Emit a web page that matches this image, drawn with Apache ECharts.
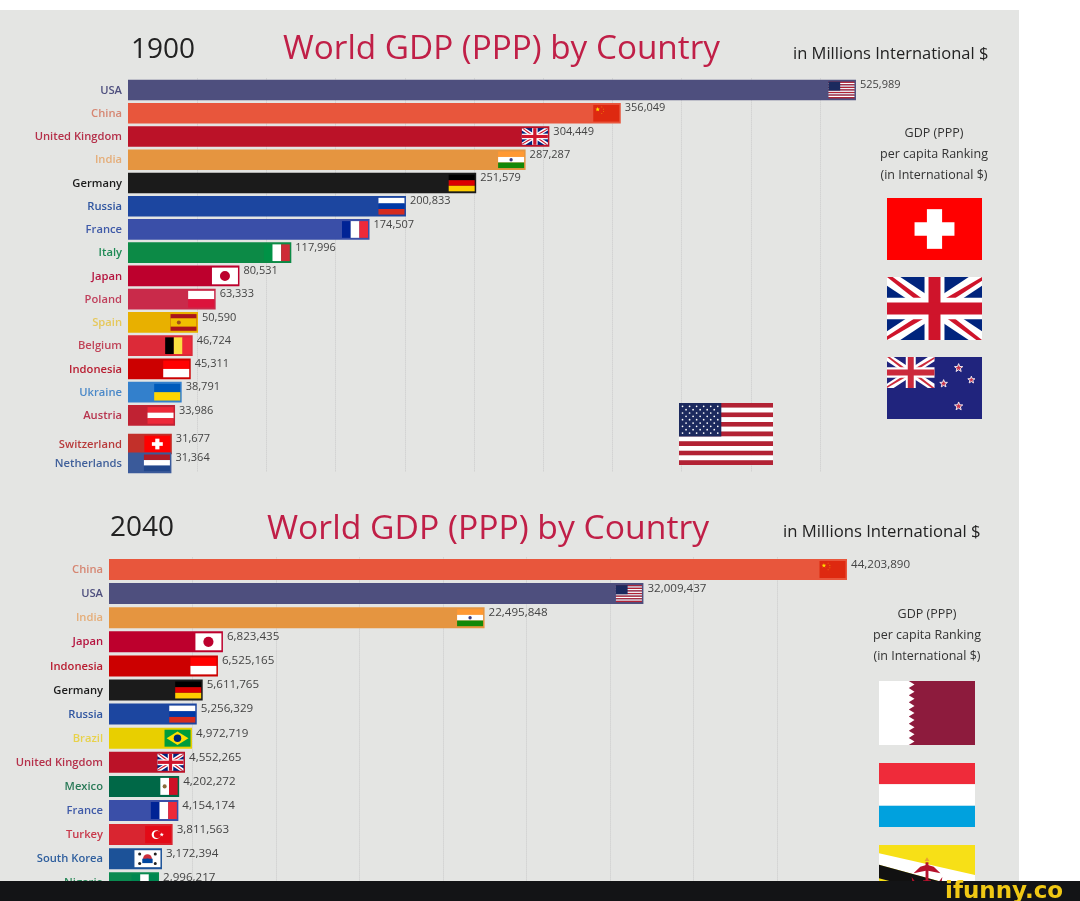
<!DOCTYPE html>
<html><head><meta charset="utf-8">
<style>html,body{margin:0;padding:0;background:#fff}#c{width:1080px;height:901px}</style>
<script src="https://cdn.jsdelivr.net/npm/echarts@6/dist/echarts.min.js"></script>
</head><body><div id="c"></div>
<script>
// ---------- data ----------
const names1900 = ['USA','China','United Kingdom','India','Germany','Russia','France','Italy','Japan','Poland','Spain','Belgium','Indonesia','Ukraine','Austria','Switzerland','Netherlands'];
const values1900 = [525989,356049,304449,287287,251579,200833,174507,117996,80531,63333,50590,46724,45311,38791,33986,31677,31364];
// the frame is caught mid-animation, the last two countries are between ranks
const ranks1900 = [1,2,3,4,5,6,7,8,9,10,11,12,13,14,15,16.23,17.04];
const names2040 = ['China','USA','India','Japan','Indonesia','Germany','Russia','Brazil','United Kingdom','Mexico','France','Turkey','South Korea','Nigeria'];
const values2040 = [44203890,32009437,22495848,6823435,6525165,5611765,5256329,4972719,4552265,4202272,4154174,3811563,3172394,2996217];
const ranks2040 = [1,2,3,4,5,6,7,8,9,10,11,12,13,14];
const barColors = {USA:'#4e4f7e',China:'#e8563c','United Kingdom':'#bb1228',India:'#e59540',Germany:'#1b1b1b',Russia:'#1c46a0',France:'#3a4fa8',Italy:'#0c8a46',Japan:'#bd002d',Poland:'#c92a4a',Spain:'#e8b000',Belgium:'#dc2a38',Indonesia:'#cc0000',Ukraine:'#3380cc',Austria:'#c02233',Switzerland:'#c2302a',Netherlands:'#3a5a9a',Brazil:'#e8cf00',Mexico:'#006847',Turkey:'#d92530','South Korea':'#1c5298',Nigeria:'#0a8a50'};
const labelColors = {USA:'#4e4f7e',China:'#d68672','United Kingdom':'#b5304a',India:'#e5ad78',Germany:'#1b1b1b',Russia:'#2f55a0',France:'#3f5aa8',Italy:'#1e8a55',Japan:'#b5143f',Poland:'#c0405c',Spain:'#e6c85a',Belgium:'#c04458',Indonesia:'#b81c30',Ukraine:'#4a88c8',Austria:'#b8344e',Switzerland:'#b83a3a',Netherlands:'#3f5f9a',Brazil:'#e8d24a',Mexico:'#2a7a58',Turkey:'#c8384a','South Korea':'#2f5f9e',Nigeria:'#2a8a5a'};
const FONT = '"Open Sans", sans-serif';

// ---------- flags ----------
function pen(x,y,w,h,out){
  return {
    r(nx,ny,nw,nh,c){out.push({type:'rect',shape:{x:x+nx*w,y:y+ny*h,width:nw*w,height:nh*h},style:{fill:c}});},
    p(pts,c){out.push({type:'polygon',shape:{points:pts.map(q=>[x+q[0]*w,y+q[1]*h])},style:{fill:c}});},
    c(nx,ny,nr,c){out.push({type:'circle',shape:{cx:x+nx*w,cy:y+ny*h,r:nr*h},style:{fill:c}});},
    s(nx,ny,nr,c,st){const pts=[];for(let i=0;i<10;i++){const a=-Math.PI/2+i*Math.PI/5,rr=(i%2?0.42:1)*nr*h;pts.push([x+nx*w+rr*Math.cos(a),y+ny*h+rr*Math.sin(a)]);}
      out.push({type:'polygon',shape:{points:pts},style:st?{fill:c,stroke:st,lineWidth:1}:{fill:c}});}
  };
}
function union(P,navy,red){
  P.r(0,0,1,1,navy);
  const t=.14,u=.06;
  P.p([[0,0],[t,0],[1,1-t],[1,1],[1-t,1],[0,t]],'#fff');
  P.p([[1,0],[1,t],[t,1],[0,1],[0,1-t],[1-t,0]],'#fff');
  P.p([[0,0],[u,0],[.5,.5-u*.2],[.5,.5],[.42,.5]],red);
  P.p([[1,1],[1-u,1],[.5,.5+u*.2],[.5,.5],[.58,.5]],red);
  P.p([[1,0],[1,u],[.55,.5],[.5,.5],[.5,.44]],red);
  P.p([[0,1],[0,1-u],[.45,.5],[.5,.5],[.5,.56]],red);
  P.r(.395,0,.21,1,'#fff');P.r(0,.33,1,.34,'#fff');
  P.r(.437,0,.126,1,red);P.r(0,.405,1,.19,red);
}
const flagFns = {
  USA(P,big){for(let i=0;i<13;i++)P.r(0,i/13,1,1/13,i%2?'#fff':'#b22234');P.r(0,0,.45,7/13,'#1c2a5e');
    if(big){for(let row=0;row<9;row++){const n=row%2?5:6;for(let k=0;k<n;k++)P.c((row%2?.075:.0375)+k*.075,(row+1)*.0538,.014,'#fff');}}},
  China(P){P.r(0,0,1,1,'#de2910');P.s(.17,.27,.14,'#ffde00');P.c(.33,.12,.025,'#ffde00');P.c(.4,.25,.025,'#ffde00');P.c(.4,.4,.025,'#ffde00');P.c(.33,.52,.025,'#ffde00');},
  'United Kingdom'(P){union(P,'#00247d','#cf142b');},
  India(P){P.r(0,0,1,1/3,'#ff9933');P.r(0,1/3,1,1/3,'#fff');P.r(0,2/3,1,1/3,'#138808');P.c(.5,.5,.1,'#3a3a80');},
  Germany(P){P.r(0,0,1,1/3,'#000');P.r(0,1/3,1,1/3,'#dd0000');P.r(0,2/3,1,1/3,'#ffce00');},
  Russia(P){P.r(0,0,1,1/3,'#fff');P.r(0,1/3,1,1/3,'#0039a6');P.r(0,2/3,1,1/3,'#d52b1e');},
  France(P){P.r(0,0,1/3,1,'#002395');P.r(1/3,0,1/3,1,'#fff');P.r(2/3,0,1/3,1,'#ed2939');},
  Italy(P){P.r(0,0,1/3,1,'#009246');P.r(1/3,0,1/3,1,'#fff');P.r(2/3,0,1/3,1,'#ce2b37');},
  Japan(P){P.r(0,0,1,1,'#fff');P.c(.5,.5,.3,'#bc002d');},
  Poland(P){P.r(0,0,1,.5,'#fff');P.r(0,.5,1,.5,'#dc143c');},
  Spain(P){P.r(0,0,1,1,'#aa151b');P.r(0,.25,1,.5,'#f1bf00');P.c(.32,.5,.12,'#a0501a');},
  Belgium(P){P.r(0,0,1/3,1,'#000');P.r(1/3,0,1/3,1,'#fae042');P.r(2/3,0,1/3,1,'#ed2939');},
  Indonesia(P){P.r(0,0,1,.5,'#ff0000');P.r(0,.5,1,.5,'#fff');},
  Ukraine(P){P.r(0,0,1,.5,'#005bbb');P.r(0,.5,1,.5,'#ffd500');},
  Austria(P){P.r(0,0,1,1/3,'#ed2939');P.r(0,1/3,1,1/3,'#fff');P.r(0,2/3,1,1/3,'#ed2939');},
  Switzerland(P){P.r(0,0,1,1,'#ff0000');P.r(.42,.18,.16,.64,'#fff');P.r(.29,.39,.42,.22,'#fff');},
  Netherlands(P){P.r(0,0,1,1/3,'#ae1c28');P.r(0,1/3,1,1/3,'#fff');P.r(0,2/3,1,1/3,'#21468b');},
  Brazil(P){P.r(0,0,1,1,'#009c3b');P.p([[.5,.1],[.92,.5],[.5,.9],[.08,.5]],'#ffdf00');P.c(.5,.5,.22,'#002776');},
  Mexico(P){P.r(0,0,1/3,1,'#006847');P.r(1/3,0,1/3,1,'#fff');P.r(2/3,0,1/3,1,'#ce1126');P.c(.5,.5,.12,'#8a6a3a');},
  Turkey(P){P.r(0,0,1,1,'#e30a17');P.c(.42,.5,.26,'#fff');P.c(.47,.5,.21,'#e30a17');P.s(.64,.5,.13,'#fff');},
  'South Korea'(P){P.r(0,0,1,1,'#fff');P.c(.5,.5,.26,'#cd2e3a');P.r(.3,.5,.4,.26,'#0047a0');P.c(.5,.62,.13,'#0047a0');
    [[.2,.22],[.8,.22],[.2,.78],[.8,.78]].forEach(q=>P.c(q[0],q[1],.09,'#222'));},
  Nigeria(P){P.r(0,0,1/3,1,'#008751');P.r(1/3,0,1/3,1,'#fff');P.r(2/3,0,1/3,1,'#008751');},
  Qatar(P){P.r(0,0,1,1,'#8d1b3d');const pts=[[0,0],[.31,0]];for(let i=0;i<9;i++){pts.push([.37,(i+.5)/9]);pts.push([.31,(i+1)/9]);}pts.push([0,1]);P.p(pts,'#fff');},
  Luxembourg(P){P.r(0,0,1,1/3,'#ef2b3a');P.r(0,1/3,1,1/3,'#fff');P.r(0,2/3,1,1/3,'#00a1de');},
  Brunei(P){P.r(0,0,1,1,'#f7e017');P.p([[0,.13],[1,.47],[1,.72],[0,.31]],'#fff');P.p([[0,.31],[1,.72],[1,.92],[0,.52]],'#111');
    const R='#b5122c';P.p([[.36,.44],[.43,.34],[.5,.31],[.57,.34],[.64,.44],[.5,.4]],R);P.r(.485,.27,.03,.3,R);P.p([[.475,.25],[.5,.19],[.525,.25]],'#e8a030');
    P.p([[.34,.5],[.4,.62],[.46,.58],[.44,.7],[.36,.7]],R);P.p([[.66,.5],[.6,.62],[.54,.58],[.56,.7],[.64,.7]],R);P.r(.46,.55,.08,.2,R);},
  'New Zealand'(P,big,x,y,w,h,out){P.r(0,0,1,1,'#20247d');const Q=pen(x,y,w/2,h/2,out);union(Q,'#20247d','#cc2a3c');
    [[.754,.177,.07],[.888,.37,.06],[.596,.43,.065],[.754,.795,.07]].forEach(q=>P.s(q[0],q[1],q[2],'#c8324a','#f2e8ee'));}
};
function flagShapes(code,x,y,w,h,big){
  const out=[];flagFns[code](pen(x,y,w,h,out),big,x,y,w,h,out);return out;
}

// ---------- chart ----------
const chart = echarts.init(document.getElementById('c'),null,{renderer:'canvas'});
function raceSeries(names,values,ranks,idx,barRatio,valueFont){
  return {
    type:'custom',xAxisIndex:idx,yAxisIndex:idx,coordinateSystem:'cartesian2d',clip:false,silent:true,
    encode:{x:0,y:1},
    data:values.map((v,i)=>[v,ranks[i]]),
    renderItem(params,api){
      const name=names[params.dataIndex], v=api.value(0), r=api.value(1);
      const end=api.coord([v,r]), start=api.coord([0,r]);
      const bh=api.size([0,1])[1]*barRatio;
      const top=end[1]-bh/2;
      const fh=bh-4, fw=26;
      const kids=[{type:'rect',shape:{x:start[0],y:top,width:end[0]-start[0],height:bh},style:{fill:barColors[name]}}];
      flagShapes(name,end[0]-fw-1.5,top+2,fw,fh,false).forEach(k=>kids.push(k));
      kids.push({type:'text',style:{text:name,x:start[0]-6,y:end[1]+0.5,fill:labelColors[name],font:'600 11.2px '+FONT,textAlign:'right',textVerticalAlign:'middle'}});
      kids.push({type:'text',style:{text:v.toLocaleString('en-US'),x:end[0]+4,y:end[1]-5,fill:'#444',font:valueFont+' '+FONT,textAlign:'left',textVerticalAlign:'middle'}});
      return {type:'group',children:kids};
    }
  };
}
function tx(text,left,top,size,color,weight,align){
  return {text,left,top,textAlign:align||'left',padding:0,textStyle:{fontFamily:'Open Sans',fontSize:size,color,fontWeight:weight||400}};
}
const graphics=[
  {type:'rect',z:-1,shape:{x:0,y:10,width:1019,height:871},style:{fill:'#e4e5e3'}}
];
function bigFlag(code,x,y,w,h,big){flagShapes(code,x,y,w,h,big).forEach(k=>{k.z=10;graphics.push(k);});}
bigFlag('Switzerland',887,198,95,62);
bigFlag('United Kingdom',887,277,95,63);
bigFlag('New Zealand',887,357,95,62);
bigFlag('USA',679,403,94,62,true);
bigFlag('Qatar',879,681,96,64);
bigFlag('Luxembourg',879,763,96,64);
bigFlag('Brunei',879,845,96,64);
graphics.push({type:'rect',z:100,shape:{x:0,y:881,width:1080,height:20},style:{fill:'#131416'}});
graphics.push({type:'text',z:101,style:{text:'ifunny.co',x:945,y:892,fill:'#f0c814',font:'bold 23px "DejaVu Sans"',textAlign:'left',textVerticalAlign:'middle'}});

chart.setOption({
  animation:false,
  backgroundColor:'#ffffff',
  title:[
    tx('1900',131,36,28,'#222'),
    tx('World GDP (PPP) by Country',283,33,33.3,'#c01f47',500),
    tx('in Millions International $',793,46,16.5,'#222',500),
    tx('GDP (PPP)',934,127,12.5,'#333',500,'center'),
    tx('per capita Ranking',934,148,12.5,'#333',500,'center'),
    tx('(in International $)',934,169,12.5,'#333',500,'center'),
    tx('2040',110,514,28,'#222'),
    tx('World GDP (PPP) by Country',267,512,33.7,'#c01f47',500),
    tx('in Millions International $',783,524,16.7,'#222',500),
    tx('GDP (PPP)',927,608,12.5,'#333',500,'center'),
    tx('per capita Ranking',927,629,12.5,'#333',500,'center'),
    tx('(in International $)',927,650,12.5,'#333',500,'center')
  ],
  grid:[
    {left:128,top:78.375,width:761.2,height:394,containLabel:false},
    {left:109,top:557.45,width:751.3,height:337.4,containLabel:false}
  ],
  xAxis:[
    {gridIndex:0,type:'value',min:0,max:550000,interval:50000,axisLabel:{show:false},axisTick:{show:false},axisLine:{show:false},splitLine:{show:true,showMinLine:false,showMaxLine:false,lineStyle:{color:'#c9c9c9',type:'dotted',width:1}}},
    {gridIndex:1,type:'value',min:0,max:45000000,interval:5000000,axisLabel:{show:false},axisTick:{show:false},axisLine:{show:false},splitLine:{show:true,showMinLine:false,showMaxLine:false,lineStyle:{color:'#c9c9c9',type:'dotted',width:1}}}
  ],
  yAxis:[
    {gridIndex:0,type:'value',inverse:true,min:0.5,max:17.45,show:false},
    {gridIndex:1,type:'value',inverse:true,min:0.5,max:14.5,show:false}
  ],
  series:[
    raceSeries(names1900,values1900,ranks1900,0,0.89,'11px'),
    raceSeries(names2040,values2040,ranks2040,1,0.87,'11.6px')
  ],
  graphic:graphics
});
</script></body></html>
